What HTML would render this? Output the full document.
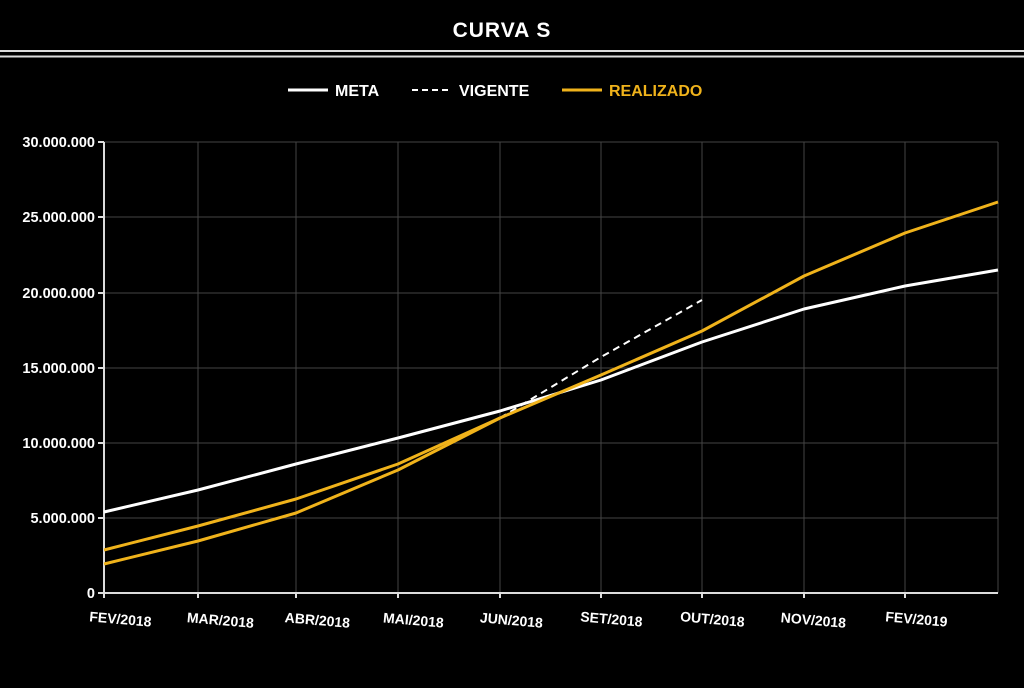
<!DOCTYPE html>
<html><head><style>
body{margin:0;background:#000;width:1024px;height:683px;overflow:hidden;font-family:"Liberation Sans",sans-serif}
</style></head><body>
<svg width="1024" height="683" xmlns="http://www.w3.org/2000/svg" font-family="Liberation Sans, sans-serif">
<rect width="1024" height="683" fill="#000"/>
<text x="502" y="37" fill="#fff" font-size="21" font-weight="bold" text-anchor="middle" letter-spacing="1">CURVA S</text>
<line x1="0" y1="51" x2="1024" y2="51" stroke="#ddd" stroke-width="2"/>
<line x1="0" y1="56.5" x2="1024" y2="56.5" stroke="#ddd" stroke-width="2"/>
<g font-size="16" font-weight="bold">
<line x1="288" y1="90" x2="328" y2="90" stroke="#fff" stroke-width="3"/>
<text x="335" y="96" fill="#fff">META</text>
<line x1="412" y1="90" x2="452" y2="90" stroke="#fff" stroke-width="2" stroke-dasharray="6,4"/>
<text x="459" y="96" fill="#fff">VIGENTE</text>
<line x1="562" y1="90" x2="602" y2="90" stroke="#f0b31b" stroke-width="3"/>
<text x="609" y="96" fill="#f0b31b">REALIZADO</text>
</g>
<g stroke="#444" stroke-width="1">
<line x1="104" y1="142" x2="998" y2="142"/><line x1="104" y1="217" x2="998" y2="217"/>
<line x1="104" y1="293" x2="998" y2="293"/><line x1="104" y1="368" x2="998" y2="368"/>
<line x1="104" y1="443" x2="998" y2="443"/><line x1="104" y1="518" x2="998" y2="518"/>
<line x1="198" y1="142" x2="198" y2="593"/><line x1="296" y1="142" x2="296" y2="593"/>
<line x1="398" y1="142" x2="398" y2="593"/><line x1="500" y1="142" x2="500" y2="593"/>
<line x1="601" y1="142" x2="601" y2="593"/><line x1="702" y1="142" x2="702" y2="593"/>
<line x1="804" y1="142" x2="804" y2="593"/><line x1="905" y1="142" x2="905" y2="593"/>
<line x1="998" y1="142" x2="998" y2="593"/>
</g>
<g stroke="#ddd" stroke-width="2">
<line x1="104" y1="142" x2="104" y2="593"/><line x1="100" y1="593" x2="998" y2="593"/>
<line x1="98" y1="142" x2="104" y2="142"/><line x1="98" y1="217" x2="104" y2="217"/><line x1="98" y1="293" x2="104" y2="293"/><line x1="98" y1="368" x2="104" y2="368"/><line x1="98" y1="443" x2="104" y2="443"/><line x1="98" y1="518" x2="104" y2="518"/><line x1="98" y1="593" x2="104" y2="593"/>
<line x1="104" y1="593" x2="104" y2="598"/><line x1="198" y1="593" x2="198" y2="598"/><line x1="296" y1="593" x2="296" y2="598"/><line x1="398" y1="593" x2="398" y2="598"/><line x1="500" y1="593" x2="500" y2="598"/><line x1="601" y1="593" x2="601" y2="598"/><line x1="702" y1="593" x2="702" y2="598"/><line x1="804" y1="593" x2="804" y2="598"/><line x1="905" y1="593" x2="905" y2="598"/>
</g>
<g fill="#fff" font-size="14.5" font-weight="bold" text-anchor="end">
<text x="95" y="147">30.000.000</text><text x="95" y="222">25.000.000</text><text x="95" y="298">20.000.000</text><text x="95" y="373">15.000.000</text><text x="95" y="448">10.000.000</text><text x="95" y="523">5.000.000</text><text x="95" y="598">0</text>
</g>
<g fill="#fff" font-size="14" font-weight="bold" text-anchor="middle">
<text transform="translate(120,624) rotate(5)">FEV/2018</text>
<text transform="translate(220,625) rotate(5)">MAR/2018</text>
<text transform="translate(317,625) rotate(5)">ABR/2018</text>
<text transform="translate(413,625) rotate(5)">MAI/2018</text>
<text transform="translate(511,625) rotate(5)">JUN/2018</text>
<text transform="translate(611,624) rotate(5)">SET/2018</text>
<text transform="translate(712,624) rotate(5)">OUT/2018</text>
<text transform="translate(813,625) rotate(5)">NOV/2018</text>
<text transform="translate(916,624) rotate(5)">FEV/2019</text>
</g>
<g fill="none" stroke-width="3" stroke-linejoin="round">
<polyline stroke="#fff" points="104,512 198,490 296,464 398,438 500,411 601,380 702,342 804,309 905,286 998,270"/>
<polyline stroke="#fff" stroke-width="2" stroke-dasharray="7,5" points="500,418 601,357 702,300"/>
<polyline stroke="#f0b31b" points="104,564 198,541 296,513 398,470 500,418"/>
<polyline stroke="#f0b31b" points="104,550 198,526 296,499 398,464 500,418 601,375 702,331 804,276 905,233 998,202"/>
</g>
</svg>
</body></html>
